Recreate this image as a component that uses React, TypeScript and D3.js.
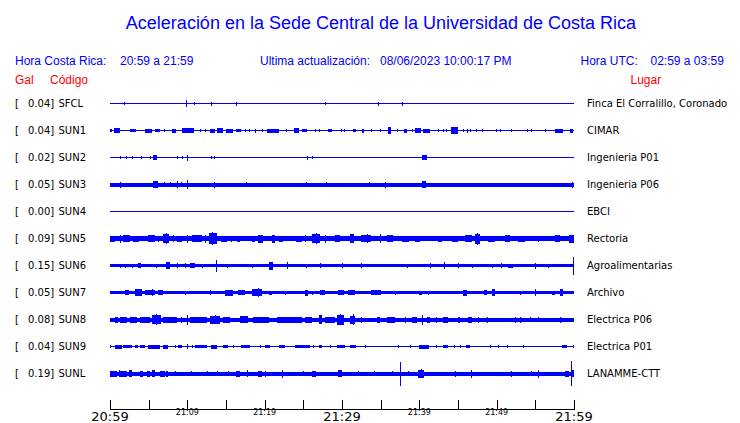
import React from 'react';
import * as d3 from 'd3';

// ---- data ----
const codes = ['SFCL', 'SUN1', 'SUN2', 'SUN3', 'SUN4', 'SUN5', 'SUN6', 'SUN7', 'SUN8', 'SUN9', 'SUNL'];
const gals = ['0.04', '0.04', '0.02', '0.05', '0.00', '0.09', '0.15', '0.05', '0.08', '0.04', '0.19'];
const places = [
  'Finca El Corralillo, Coronado', 'CIMAR', 'Ingenieria P01', 'Ingenieria P06', 'EBCI',
  'Rectoria', 'Agroalimentarias', 'Archivo', 'Electrica P06', 'Electrica P01', 'LANAMME-CTT',
];
// background noise half-amplitude of each trace
const baseAmp = [0.5, 0.6, 0.5, 2, 0.5, 2.2, 1.5, 1.5, 2, 0.6, 2];

// bursts: [start minute, end minute, half-amplitude]
const evSFCL = [[1.8, 1.9, 1.5], [9.85, 10, 3.5], [10.8, 10.9, 1.5], [13, 13.1, 2], [16.3, 16.4, 2], [27.8, 27.9, 1.5], [34.7, 34.8, 2], [37.8, 37.9, 2]];
const evSUN1 = [[0, 0.2, 1.5], [0.55, 1.35, 2.2], [2.6, 3.4, 1.5], [4.5, 5.4, 2], [5.8, 6.5, 1.5], [7, 7.1, 1.5], [7.97, 8.5, 2], [9.3, 10.9, 2.5], [11.6, 11.7, 1.5], [12.3, 12.4, 1.5], [12.9, 13.6, 2], [13.8, 14.6, 2.2], [15, 15.9, 2], [16.3, 17, 1.5], [17.45, 17.5, 1.5], [18, 18.1, 1.5], [18.75, 18.85, 2], [19.7, 19.8, 1.5], [20.3, 21.85, 2], [22.8, 22.9, 1.5], [23.8, 24.4, 2.5], [24.8, 25.5, 1.8], [26.5, 26.6, 1.5], [27, 27.1, 1.5], [28.2, 28.65, 1.8], [29.9, 30, 1.5], [30.3, 30.4, 1.5], [31.4, 31.8, 1.8], [32.6, 32.9, 2], [33.8, 33.9, 1.5], [34.9, 35, 1.5], [36, 36.3, 3.5], [37.1, 37.2, 1.5], [38, 38.4, 2], [39, 39.1, 1.5], [39.4, 40.2, 2.5], [40.5, 41.4, 2], [42.45, 42.55, 1.5], [43.1, 43.2, 1.5], [43.5, 43.6, 1.5], [44.1, 45, 3.5], [45.7, 45.8, 1.5], [46.1, 46.2, 2], [46.5, 46.6, 1.5], [47.3, 47.5, 1.8], [48.05, 48.15, 1.5], [49.9, 50, 1.5], [50.4, 50.5, 1.5], [51.9, 52, 1.5], [53.9, 54, 1.5], [54.5, 54.6, 1.5], [56.2, 56.3, 1.5], [57.5, 58.6, 2], [59.5, 59.9, 2]];
const evSUN2 = [[1.3, 1.4, 1.5], [2.1, 2.2, 1.5], [2.8, 2.9, 1.5], [4, 4.1, 1.5], [5.2, 5.3, 1.5], [5.5, 6.1, 2.2], [8.7, 8.8, 1.5], [9.3, 9.4, 1.5], [9.9, 10, 3], [13, 13.1, 1.5], [13.5, 13.6, 1.5], [25.5, 25.6, 2], [26.1, 26.2, 1.5], [40.3, 41, 2.2]];
const evSUN3 = [[1.3, 1.4, 3], [5.5, 6.15, 3.5], [7, 7.1, 2.5], [7.75, 7.85, 2.5], [8.6, 8.8, 3.5], [9.2, 9.3, 2.5], [9.9, 10, 4.5], [13.5, 13.6, 3], [17.6, 17.7, 2.5], [25.35, 25.45, 2.5], [27.9, 28, 2.5], [33.5, 33.6, 2.5], [35.5, 35.6, 3], [40.3, 40.8, 3.5], [59.8, 59.9, 3]];
const evSUN4: number[][] = [];
const evSUN5 = [[0, 0.65, 3], [1.3, 1.4, 4], [1.7, 2.6, 3.5], [3, 3.7, 3], [4.95, 5.8, 3.5], [6.25, 6.35, 3], [6.8, 7.6, 4.5], [7.3, 7.4, 5.5], [8.2, 8.3, 3.5], [8.6, 9.3, 3], [9.9, 10, 4], [10.6, 11.85, 3.5], [12.3, 12.4, 4], [12.8, 13.8, 5.5], [13.2, 13.3, 6.5], [14.4, 15.1, 3], [15.7, 15.8, 3], [16.4, 16.8, 3], [18.3, 18.75, 3], [19.2, 19.8, 4], [20.9, 21.3, 4], [21.8, 22.4, 3], [24.1, 24.8, 3], [25.2, 25.3, 3.5], [26.1, 27.15, 4.5], [26.6, 26.7, 5.5], [27.8, 27.9, 4], [29.1, 29.7, 3.5], [31, 31.6, 4.5], [32.5, 33.8, 3.5], [33.2, 33.3, 4.5], [34.9, 35, 4.5], [35.8, 36.6, 3.5], [37.7, 38.6, 3], [39.4, 40.1, 3], [42.45, 42.9, 3], [44.2, 45, 3], [45.9, 46.8, 3.5], [47.2, 47.8, 5], [47.5, 47.6, 6], [48.9, 49.8, 3], [51.1, 51.7, 3.5], [52.8, 53.7, 3], [55.4, 55.5, 3], [57.5, 58.2, 3.5], [59.3, 60, 4]];
const evSUN6 = [[1.3, 1.4, 2], [1.9, 2, 2], [2.8, 2.9, 2], [3.66, 4, 2.5], [6, 6.1, 2], [7.3, 7.75, 3.5], [8.6, 8.7, 2.5], [9.7, 9.8, 2.5], [10.3, 11, 2.5], [11.85, 11.95, 2], [13.7, 13.8, 6], [15.1, 15.2, 2], [16.8, 16.9, 1.5], [18.3, 18.4, 2], [20.6, 21.1, 4], [22.85, 22.95, 3.5], [25.4, 25.5, 2], [27.15, 27.25, 2.5], [30, 30.1, 2.5], [32.5, 32.6, 2.5], [36.2, 36.3, 1.5], [38.35, 38.45, 2], [41.4, 41.5, 2.5], [43.2, 43.3, 3.5], [45, 45.1, 2.5], [46.8, 46.9, 2], [49.35, 49.45, 2], [50.6, 50.7, 2.5], [51.5, 52.15, 2], [55, 55.1, 3], [56.7, 56.8, 2], [59.9, 60, 9]];
const evSUN7 = [[0, 0.4, 1.5], [1.9, 2.4, 2.5], [3.2, 4.1, 3.5], [4.5, 5.8, 2.5], [5.4, 5.5, 3.5], [6.25, 6.9, 2.5], [9.7, 9.8, 2], [12.9, 13, 2.5], [14.9, 15.9, 3], [16.6, 17.45, 2.5], [18.3, 19.6, 3.5], [19.1, 19.2, 4.5], [20.5, 20.9, 2], [22.6, 22.7, 2], [25.2, 25.6, 3], [26.1, 26.2, 2], [27.15, 27.8, 2.5], [29.5, 30.2, 2.5], [30.8, 31.7, 2.5], [33.8, 35.1, 2.5], [36.85, 36.95, 2], [38.1, 38.2, 1.5], [39.9, 40.3, 2], [41.1, 41.2, 2], [45.7, 46.1, 3], [48.3, 48.7, 2.5], [49.35, 49.8, 3.5], [53, 53.1, 2], [55, 55.1, 3.5], [57.1, 57.5, 2], [58.2, 58.6, 3.5], [59.5, 59.6, 1.5]];
const evSUN8 = [[0.65, 1.05, 3], [1.3, 2.15, 3], [2.6, 3.45, 3], [3.9, 5.2, 3], [5.4, 6.6, 4.5], [5.95, 6.05, 5.5], [6.9, 8.6, 3], [9.2, 9.3, 3], [9.9, 10, 5], [10.3, 12.5, 3], [12.9, 14.2, 4], [13.6, 13.7, 4.5], [14.65, 15.5, 3], [16.8, 17.9, 3.5], [18.5, 20.5, 3], [21.55, 24.8, 3], [25.2, 26.1, 3], [27, 27.4, 4.5], [27.8, 29.1, 3], [29.3, 30.2, 5], [29.7, 29.8, 5.5], [31, 31.7, 4], [31.45, 31.55, 5.5], [32.5, 32.6, 3], [34.5, 34.9, 3], [35.8, 36.85, 3], [38.1, 38.2, 3], [39, 39.65, 3], [40.3, 40.4, 5], [41, 41.4, 3], [42.2, 42.3, 3], [43.1, 43.75, 3], [45, 45.25, 3], [46.3, 46.8, 3], [47.6, 47.7, 3], [48.7, 48.8, 3], [52.4, 52.5, 3], [53, 53.1, 3], [54.3, 54.4, 2.5], [55.4, 55.5, 2.5], [58.2, 58.3, 3]];
const evSUN9 = [[0, 0.1, 1.5], [0.65, 1.5, 2], [1.7, 2.8, 1.8], [3.2, 3.66, 1.5], [3.9, 4.5, 1.8], [4.95, 6.5, 2], [6.9, 7.55, 2], [8.4, 8.5, 1.5], [8.75, 9.35, 1.8], [9.9, 10, 2.5], [10.65, 10.75, 1.5], [11, 12.5, 1.8], [13.05, 13.9, 2], [14.65, 15.3, 1.8], [15.95, 16.05, 1.5], [17, 18.1, 1.8], [19.4, 19.5, 1.5], [20, 20.7, 1.8], [21.8, 22.6, 1.8], [23.9, 25.85, 1.8], [26.3, 26.4, 1.5], [27, 27.4, 1.8], [28.4, 28.5, 1.5], [29.3, 30.4, 1.8], [31, 31.8, 1.8], [33, 33.1, 1.5], [37.3, 37.4, 1.2], [38.8, 38.9, 1.2], [40, 41.25, 2], [42.15, 42.25, 1.5], [43.1, 43.75, 1.8], [44.5, 44.6, 1.5], [45.25, 45.35, 1.5], [46, 46.55, 1.8], [49.1, 49.2, 1.2], [50.2, 50.3, 1.2], [51.3, 51.4, 1.2], [53.4, 53.5, 1.2], [58.4, 59.05, 1.5], [59.9, 60, 1.5]];
const evSUNL = [[0, 0.85, 3], [1.1, 1.2, 3.5], [1.3, 2.15, 3], [2.4, 2.8, 3.5], [3.9, 4.3, 3], [4.75, 5.2, 3], [5.4, 5.8, 3.5], [6.45, 7.1, 3], [7.3, 7.55, 3], [8.4, 8.5, 2.5], [10.45, 10.55, 2.5], [12.6, 12.7, 2.5], [13.8, 13.9, 2.5], [15.2, 15.3, 2.5], [16.25, 16.8, 3], [17.75, 17.85, 3.5], [19.2, 19.6, 3], [20, 20.1, 3], [22.2, 22.3, 4], [25, 25.1, 2.5], [26.1, 26.7, 3], [29.5, 29.95, 3.5], [32.1, 32.2, 2.5], [34.2, 34.3, 2.5], [36.5, 36.6, 2.5], [37.5, 37.6, 12], [38.5, 38.6, 2.5], [39.8, 40.6, 4], [40.2, 40.3, 4.5], [44.6, 44.7, 3], [46.7, 46.8, 4], [51.8, 51.9, 3], [54.5, 54.6, 2.5], [55.3, 55.4, 4], [58.9, 59.4, 3], [59.6, 59.7, 12.5], [59.7, 60, 3.5]];
const events = [evSFCL, evSUN1, evSUN2, evSUN3, evSUN4, evSUN5, evSUN6, evSUN7, evSUN8, evSUN9, evSUNL];

const tickMinutes = [0, 5, 10, 15, 20, 25, 30, 35, 40, 45, 50, 55, 60];
const labelMinutes = [0, 10, 20, 30, 40, 50, 60];
const labelTexts = ['20:59', '21:09', '21:19', '21:29', '21:39', '21:49', '21:59'];
const bigLabel = [true, false, false, true, false, false, true];

const BLUE = '#0000ff';
const RED = '#ff0000';

export default function App() {
  const W = 740, H = 423;
  const x = d3.scaleLinear().domain([0, 60]).range([110, 574]);
  const row = d3.scalePoint<string>().domain(codes).range([103.5, 373.5]);
  const amp = d3.scaleLinear().domain([-1, 1]).range([1, -1]);
  const axisY = 409;
  const sans = 'Liberation Sans, Arial, sans-serif';
  const dv = 'DejaVu Sans, sans-serif';

  return (
    <svg width={W} height={H} style={{ position: 'absolute', left: 0, top: 0, background: '#fff' }}>
      <rect x={0} y={0} width={W} height={H} fill="#fff" />
      <text x={381} y={29} textAnchor="middle" fontFamily={sans} fontSize={18} fill={BLUE}>
        Aceleración en la Sede Central de la Universidad de Costa Rica
      </text>
      <g fontFamily={sans} fontSize={12} fill={BLUE}>
        <text x={15} y={65}>Hora Costa Rica:</text>
        <text x={120} y={65}>20:59 a 21:59</text>
        <text x={260} y={65}>Ultima actualización:</text>
        <text x={380} y={65}>08/06/2023 10:00:17 PM</text>
        <text x={580.5} y={65}>Hora UTC:</text>
        <text x={650.5} y={65}>02:59 a 03:59</text>
      </g>
      <g fontFamily={sans} fontSize={12} fill={RED}>
        <text x={15} y={84}>Gal</text>
        <text x={50} y={84}>Código</text>
        <text x={630.5} y={84}>Lugar</text>
      </g>
      {codes.map((c, i) => {
        const cy = row(c) as number;
        const ys = (v: number) => cy + amp(v);
        const b = baseAmp[i];
        return (
          <g key={c}>
            <text x={15} y={cy + 3.8} fontFamily={dv} fontSize={10} fill="#000">[</text>
            <text x={28} y={cy + 3.8} fontFamily={dv} fontSize={10} fill="#000">{gals[i] + ']'}</text>
            <text x={58.5} y={cy + 3.8} fontFamily={dv} fontSize={10} fill="#000">{c}</text>
            <text x={587} y={cy + 3.8} fontFamily={dv} fontSize={10} fill="#000">{places[i]}</text>
            <g fill={BLUE} shapeRendering="crispEdges">
              <rect x={x(0)} width={x(60) - x(0)} y={ys(b)} height={Math.max(1, ys(-b) - ys(b))} />
              {events[i].map((e, j) => (
                <rect key={j} x={x(e[0])} width={Math.max(1, x(e[1]) - x(e[0]))} y={ys(e[2])} height={ys(-e[2]) - ys(e[2])} />
              ))}
            </g>
          </g>
        );
      })}
      <g shapeRendering="crispEdges" stroke="#000">
        <line x1={x(0)} x2={x(60)} y1={axisY + 0.5} y2={axisY + 0.5} />
        {tickMinutes.map((m) => (
          <line key={m} x1={Math.round(x(m)) + 0.5} x2={Math.round(x(m)) + 0.5} y1={axisY - 9} y2={axisY + 0.5} />
        ))}
      </g>
      {labelMinutes.map((m, i) => (
        <text key={m} x={x(m)} y={bigLabel[i] ? 421 : 415} textAnchor="middle" fontFamily={dv}
          fontSize={bigLabel[i] ? 13 : 8} fill="#000">{labelTexts[i]}</text>
      ))}
    </svg>
  );
}
